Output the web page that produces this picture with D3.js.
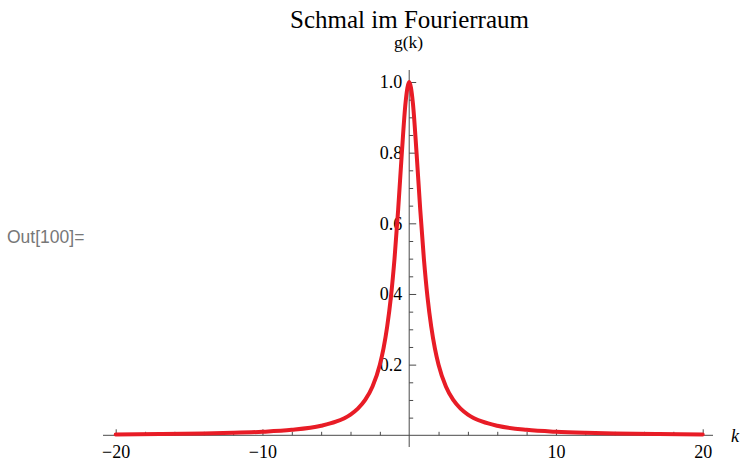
<!DOCTYPE html>
<html>
<head>
<meta charset="utf-8">
<script src="https://cdn.jsdelivr.net/npm/d3@7"></script>
<style>
  html, body { margin: 0; padding: 0; background: #fff; }
  svg { display: block; }
</style>
</head>
<body>
<svg id="chart" width="741" height="464"></svg>
<script>
// Sampled values of g(k), symmetric about k = 0
const kValues = [-20, -17, -14, -12, -10, -8, -6, -5, -4, -3.5, -3, -2.5, -2, -1.75, -1.5, -1.25, -1, -0.75, -0.5, -0.25,
                 0, 0.25, 0.5, 0.75, 1, 1.25, 1.5, 1.75, 2, 2.5, 3, 3.5, 4, 5, 6, 8, 10, 12, 14, 17, 20];
const gValues = [0.0025, 0.0035, 0.0051, 0.0069, 0.0099, 0.0154, 0.027, 0.0385, 0.0588, 0.0755, 0.1, 0.138, 0.2, 0.246, 0.308, 0.39, 0.5, 0.64, 0.8, 0.941,
                 1.0, 0.941, 0.8, 0.64, 0.5, 0.39, 0.308, 0.246, 0.2, 0.138, 0.1, 0.0755, 0.0588, 0.0385, 0.027, 0.0154, 0.0099, 0.0069, 0.0051, 0.0035, 0.0025];

const xMajorTicks = [-20, -10, 10, 20];
const xMinorTicks = [-18, -16, -14, -12, -8, -6, -4, -2, 2, 4, 6, 8, 12, 14, 16, 18];
const yMajorTicks = [0.2, 0.4, 0.6, 0.8, 1.0];
const yMinorTicks = [0.05, 0.1, 0.15, 0.25, 0.3, 0.35, 0.45, 0.5, 0.55, 0.65, 0.7, 0.75, 0.85, 0.9, 0.95];

const titleText = "Schmal im Fourierraum";
const yLabel = "g(k)";
const xLabel = "k";
const cellLabel = "Out[100]=";

const svg = d3.select("#chart");
const serif = "'Liberation Serif', 'Times New Roman', serif";
const axisColor = "#4a4a4a";

const x = d3.scaleLinear().domain([-20, 20]).range([115.7, 702.7]);
const y = d3.scaleLinear().domain([0, 1]).range([435.3, 82]);

// Axis lines (extend a bit beyond the plot range)
svg.append("line")
  .attr("x1", 103).attr("x2", 713)
  .attr("y1", y(0)).attr("y2", y(0))
  .attr("stroke", axisColor).attr("stroke-width", 1);
svg.append("line")
  .attr("x1", x(0)).attr("x2", x(0))
  .attr("y1", 70).attr("y2", 447)
  .attr("stroke", axisColor).attr("stroke-width", 1);

function styleAxis(g) {
  g.select(".domain").remove();
  g.selectAll(".tick line").attr("stroke", axisColor);
  g.selectAll(".tick text")
    .attr("font-family", serif)
    .attr("font-size", 18)
    .attr("fill", "#000");
}

// x axis: ticks point upward into the plot
svg.append("g")
  .attr("transform", `translate(0,${y(0)})`)
  .call(d3.axisBottom(x).tickValues(xMajorTicks).tickSize(-6).tickPadding(10)
        .tickFormat(d3.format("d")))
  .call(styleAxis)
  .call(g => g.selectAll(".tick text").attr("dy", "0.71em"));
svg.append("g")
  .attr("transform", `translate(0,${y(0)})`)
  .call(d3.axisBottom(x).tickValues(xMinorTicks).tickSize(-3.5).tickFormat(""))
  .call(styleAxis);

// y axis: ticks point right, labels on the left
svg.append("g")
  .attr("transform", `translate(${x(0)},0)`)
  .call(d3.axisLeft(y).tickValues(yMajorTicks).tickSize(-7).tickPadding(7)
        .tickFormat(d3.format(".1f")))
  .call(styleAxis)
  .call(g => g.selectAll(".tick text").attr("dy", "0.33em"));
svg.append("g")
  .attr("transform", `translate(${x(0)},0)`)
  .call(d3.axisLeft(y).tickValues(yMinorTicks).tickSize(-4).tickFormat(""))
  .call(styleAxis);

// Curve
const pts = kValues.map((k, i) => [k, gValues[i]]);
const line = d3.line()
  .x(d => x(d[0]))
  .y(d => y(d[1]))
  .curve(d3.curveMonotoneX);
svg.append("path")
  .datum(pts)
  .attr("d", line)
  .attr("fill", "none")
  .attr("stroke", "#e81c26")
  .attr("stroke-width", 4)
  .attr("stroke-linejoin", "round")
  .attr("stroke-linecap", "round");

// Labels
svg.append("text")
  .attr("x", 409.5).attr("y", 27.5)
  .attr("text-anchor", "middle")
  .attr("font-family", serif).attr("font-size", 25)
  .text(titleText);
svg.append("text")
  .attr("x", 408.5).attr("y", 48)
  .attr("text-anchor", "middle")
  .attr("font-family", serif).attr("font-size", 17.5)
  .text(yLabel);
svg.append("text")
  .attr("x", 731).attr("y", 442)
  .attr("font-family", serif).attr("font-size", 18)
  .attr("font-style", "italic")
  .text(xLabel);
svg.append("text")
  .attr("x", 7).attr("y", 243)
  .attr("font-family", "'Liberation Sans', Arial, sans-serif").attr("font-size", 17.5)
  .attr("fill", "#777")
  .text(cellLabel);
</script>
</body>
</html>
